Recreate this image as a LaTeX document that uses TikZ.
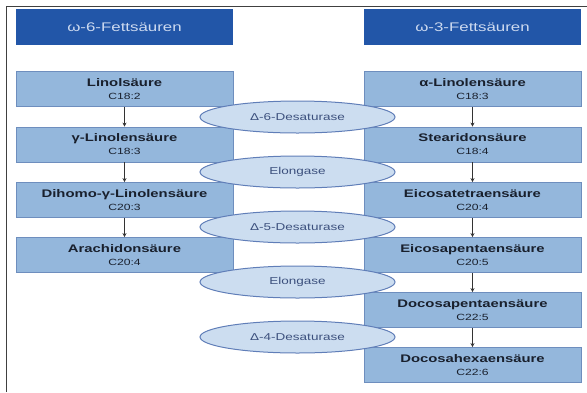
\documentclass[tikz,border=0pt]{standalone}
\usepackage{fontspec}
\setmainfont{Liberation Sans}
\newfontfamily\widesans[FakeStretch=1.35]{Liberation Sans}
\usetikzlibrary{shapes}
\usetikzlibrary{positioning}
\usetikzlibrary{arrows.meta}

\definecolor{titleblue}{RGB}{34,86,168}
\definecolor{titletext}{RGB}{205,218,240}
\definecolor{boxfill}{RGB}{148,183,220}
\definecolor{boxline}{RGB}{110,142,190}
\definecolor{enzfill}{RGB}{204,221,240}
\definecolor{enzline}{RGB}{96,126,184}
\definecolor{enztext}{RGB}{60,80,125}
\definecolor{acidtext}{RGB}{25,32,45}

\newcommand{\acid}[2]{{\bfseries #1}\\[1pt]{\fontsize{9}{10}\selectfont #2}}

\begin{document}
\begin{tikzpicture}[x=1pt,y=-1pt]
	\tikzstyle{every node}+=[inner sep=0pt]
	\tikzstyle{head}=[fill=titleblue, minimum width=217pt, minimum height=36pt, text=titletext, font=\widesans\fontsize{12.5}{14}\selectfont]
	\tikzstyle{acidbox}=[draw=boxline, line width=0.8pt, fill=boxfill, minimum width=217pt, minimum height=35pt, align=center, text=acidtext, font=\widesans\fontsize{11}{12}\selectfont]
	\tikzstyle{enzyme}=[ellipse, draw=enzline, line width=1pt, fill=enzfill, minimum width=195pt, minimum height=32pt, text=enztext, font=\widesans\fontsize{10}{12}\selectfont]
	\tikzstyle{flow}=[-{Stealth[length=4pt,width=4pt]}, line width=0.8pt, black!80]
	\useasboundingbox (0,0) rectangle (587,392);
	\draw [black!75, line width=1pt] (6,392) -- (6,6) -- (587,6);
	% headings
	\node [head] (h6) at (124.5,27) {ω-6-Fettsäuren};
	\node [head] (h3) at (472.5,27) {ω-3-Fettsäuren};
	% omega-6 chain
	\node [acidbox] (l1) at (124.5,89) {\acid{Linolsäure}{C18:2}};
	\node [acidbox] (l2) at (124.5,144.5) {\acid{γ-Linolensäure}{C18:3}};
	\node [acidbox] (l3) at (124.5,200) {\acid{Dihomo-γ-Linolensäure}{C20:3}};
	\node [acidbox] (l4) at (124.5,255) {\acid{Arachidonsäure}{C20:4}};
	% omega-3 chain
	\node [acidbox] (r1) at (472.5,89) {\acid{α-Linolensäure}{C18:3}};
	\node [acidbox] (r2) at (472.5,144.5) {\acid{Stearidonsäure}{C18:4}};
	\node [acidbox] (r3) at (472.5,200) {\acid{Eicosatetraensäure}{C20:4}};
	\node [acidbox] (r4) at (472.5,255) {\acid{Eicosapentaensäure}{C20:5}};
	\node [acidbox] (r5) at (472.5,310) {\acid{Docosapentaensäure}{C22:5}};
	\node [acidbox] (r6) at (472.5,365) {\acid{Docosahexaensäure}{C22:6}};
	% steps
	\draw [flow] (l1) -- (l2);
	\draw [flow] (l2) -- (l3);
	\draw [flow] (l3) -- (l4);
	\draw [flow] (r1) -- (r2);
	\draw [flow] (r2) -- (r3);
	\draw [flow] (r3) -- (r4);
	\draw [flow] (r4) -- (r5);
	\draw [flow] (r5) -- (r6);
	% enzymes
	\node [enzyme] (e1) at (297.5,117) {Δ-6-Desaturase};
	\node [enzyme] (e2) at (297.5,172) {Elongase};
	\node [enzyme] (e3) at (297.5,227) {Δ-5-Desaturase};
	\node [enzyme] (e4) at (297.5,282) {Elongase};
	\node [enzyme] (e5) at (297.5,337) {Δ-4-Desaturase};
\end{tikzpicture}
\end{document}
